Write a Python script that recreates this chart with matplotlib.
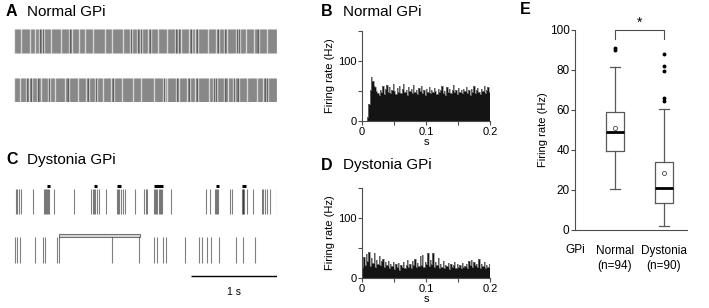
import numpy as np
import matplotlib.pyplot as plt

plt.rcParams['font.family'] = ['Liberation Sans', 'DejaVu Sans']

W, H = 709, 308

# --- data ---
# A: normal GPi, interspike intervals (ms) of two 3 s sweeps
normal_isi1 = [7, 15, 11, 19, 9, 13, 22, 8, 14, 10, 17, 12, 6, 16, 20, 11, 9, 14, 18, 13, 10, 24, 8, 12,
               15, 9, 19, 11, 13, 7, 16, 10, 21, 12, 14, 9, 17, 11, 8, 15, 13, 20, 10, 12, 18, 9, 14, 11,
               16, 7, 13, 19, 10, 15, 12, 8, 17, 22, 11, 14, 9, 13, 16, 10, 12, 18, 8, 15, 11, 20, 13, 9,
               14, 12, 17, 10, 7, 16, 13, 11, 19, 9, 15, 12, 14, 10, 21, 8, 13, 17, 11, 12, 9, 16, 14, 10,
               18, 12, 8, 15, 13, 11, 20, 9, 14, 16, 10, 12, 19, 7, 13, 15, 11, 17, 9, 14, 12, 10, 22, 13,
               8, 16, 11, 15, 9, 18, 12, 14, 10, 13, 17, 8, 11, 16, 12, 20, 9, 15, 13, 10, 14, 11, 18, 7,
               12, 16, 9, 13, 15, 11, 19, 10, 14, 12, 8, 17, 13, 9, 16, 11, 21, 12, 10, 15, 14, 8, 13, 18,
               11, 9, 16, 12, 14, 10, 17, 13, 7, 15, 11, 20, 12, 9, 14, 16, 10, 13, 18, 8, 12, 15, 11, 14,
               9, 19, 13, 10, 16, 12, 11, 15, 8, 17, 14, 9, 13, 12, 20, 10, 16, 11, 14, 13, 9, 18, 12, 15,
               10, 7, 17, 13, 11, 14, 16, 9, 12, 19, 10, 15, 13, 8, 14, 11, 17, 12, 10, 16, 13, 9, 21, 11]
normal_isi2 = [12, 9, 16, 10, 14, 21, 8, 13, 11, 18, 15, 9, 12, 17, 10, 7, 14, 19, 11, 13, 16, 9, 12, 8,
               20, 14, 10, 15, 11, 13, 17, 9, 12, 16, 10, 14, 23, 11, 8, 15, 12, 18, 9, 13, 10, 16, 14, 11,
               7, 19, 12, 15, 10, 13, 9, 17, 11, 14, 12, 20, 8, 16, 10, 13, 15, 11, 9, 18, 12, 14, 10, 16,
               13, 8, 17, 11, 15, 9, 12, 25, 10, 14, 13, 11, 16, 9, 18, 12, 7, 15, 14, 10, 13, 19, 11, 12,
               16, 9, 14, 10, 17, 13, 8, 15, 12, 11, 20, 9, 14, 16, 10, 13, 12, 18, 11, 9, 15, 14, 7, 17,
               12, 10, 16, 13, 11, 19, 9, 14, 12, 15, 10, 8, 18, 13, 11, 16, 24, 12, 9, 14, 10, 17, 13, 11,
               15, 8, 12, 19, 10, 14, 16, 9, 13, 11, 18, 12, 7, 15, 10, 14, 13, 20, 11, 9, 16, 12, 14, 10,
               17, 8, 13, 15, 11, 12, 22, 9, 14, 16, 10, 13, 11, 18, 12, 15, 9, 14, 10, 17, 8, 13, 12, 16,
               11, 19, 10, 14, 9, 15, 13, 12, 7, 18, 11, 16, 10, 14, 13, 9, 20, 12, 15, 11, 8, 17, 13, 10,
               14, 16, 12, 9, 19, 11, 15, 13, 10, 14, 8, 17, 12, 11, 16, 9, 13, 15, 10, 18, 12, 14, 11, 9]

# C: dystonia GPi spike times (s)
dyst_row1 = [0.020, 0.038, 0.062, 0.081, 0.217, 0.352, 0.360, 0.369, 0.387, 0.398, 0.407, 0.469, 0.701,
             0.895, 0.922, 0.930, 0.942, 0.969, 0.992, 1.066, 1.201, 1.212, 1.224, 1.244, 1.264, 1.291,
             1.407, 1.515, 1.535, 1.550, 1.628, 1.640, 1.648, 1.666, 1.686, 1.700, 1.706, 1.724, 1.822,
             2.229, 2.279, 2.337, 2.350, 2.357, 2.372, 2.512, 2.538, 2.648, 2.663, 2.670, 2.678, 2.713,
             2.783, 2.880, 2.899, 2.919, 2.938, 2.977, 3.055]
dyst_row2 = [0.012, 0.035, 0.070, 0.244, 0.337, 0.360, 0.500, 0.523, 1.140, 1.453, 1.628, 1.663, 1.733,
             1.767, 1.988, 2.151, 2.186, 2.244, 2.291, 2.384, 2.581, 2.663, 2.802]
burst_start = [0.384, 0.930, 1.198, 1.628, 2.349, 2.651]
burst_end = [0.419, 0.965, 1.244, 1.733, 2.384, 2.698]
pause_start, pause_end = 0.523, 1.465

# B, D: firing-rate histograms, 2 ms bins from 0 to 0.2 s
hist_normal = [0, 0, 0, 0, 6, 28, 52, 74, 66, 58, 56, 50, 47, 44, 52, 48, 58, 45, 54, 60,
               49, 56, 46, 52, 61, 50, 45, 55, 49, 58, 47, 53, 62, 48, 51, 44, 57, 50, 54, 46,
               60, 49, 52, 45, 55, 50, 58, 47, 51, 44, 53, 49, 57, 46, 52, 48, 55, 50, 45, 54,
               48, 52, 58, 47, 50, 44, 56, 49, 53, 46, 51, 60, 48, 52, 45, 55, 49, 51, 46, 54,
               50, 57, 47, 52, 44, 53, 48, 59, 46, 51, 55, 49, 45, 53, 50, 58, 47, 52, 56, 48]
hist_dyst = [18, 35, 22, 40, 28, 44, 20, 33, 25, 42, 19, 30, 24, 36, 21, 28, 32, 18, 26, 22,
             29, 17, 24, 20, 27, 15, 23, 19, 25, 14, 21, 18, 26, 16, 22, 30, 19, 24, 17, 28,
             21, 32, 18, 25, 20, 36, 22, 38, 19, 27, 23, 41, 20, 30, 24, 42, 18, 26, 21, 33,
             17, 24, 19, 28, 16, 22, 20, 25, 15, 23, 18, 21, 26, 17, 24, 19, 22, 16, 25, 18,
             20, 23, 17, 28, 21, 30, 18, 26, 22, 24, 19, 31, 17, 23, 20, 27, 16, 22, 19, 24]
bin_ms = 2

# E: firing rate box plot
groups = ['Normal\n(n=94)', 'Dystonia\n(n=90)']
whislo = [20.5, 2.0]
q1 = [39.5, 13.5]
med = [49.0, 21.0]
q3 = [59.0, 34.0]
whishi = [81.5, 60.5]
means = [51.0, 28.5]
outliers = [[90.0, 91.0], [64.5, 66.0, 79.5, 82.0, 88.0]]


def px_axes(fig, x0, y0, x1, y1):
    return fig.add_axes([x0 / W, 1 - y1 / H, (x1 - x0) / W, (y1 - y0) / H])


fig = plt.figure(figsize=(W / 100, H / 100), dpi=100)
fig.patch.set_facecolor('white')

lab = dict(fontsize=11.5, fontweight='bold', va='center')
ttl = dict(fontsize=11, va='center')
fig.text(6 / W, 1 - 12 / H, 'A', **lab)
fig.text(27 / W, 1 - 12 / H, 'Normal GPi', **ttl)
fig.text(6 / W, 1 - 160 / H, 'C', **lab)
fig.text(27 / W, 1 - 160 / H, 'Dystonia GPi', **ttl)
fig.text(321 / W, 1 - 12 / H, 'B', **lab)
fig.text(343 / W, 1 - 12 / H, 'Normal GPi', **ttl)
fig.text(321 / W, 1 - 165 / H, 'D', **lab)
fig.text(343 / W, 1 - 165 / H, 'Dystonia GPi', **ttl)
fig.text(520 / W, 1 - 10 / H, 'E', **lab)

sweep = 3.06

# panel A rasters
t1 = np.cumsum(normal_isi1) / 1000
t2 = np.cumsum(normal_isi2) / 1000
axA = px_axes(fig, 14, 29, 277, 102)
axA.set_xlim(0, sweep)
axA.set_ylim(73, 0)
axA.vlines(t1[t1 < sweep], 0, 24, color='k', alpha=0.36, lw=1.05)
axA.vlines(t2[t2 < sweep], 49, 73, color='k', alpha=0.36, lw=1.05)
axA.set_axis_off()

# panel C rasters
axC = px_axes(fig, 14, 180, 277, 300)
axC.set_xlim(0, sweep)
axC.set_ylim(120, 0)
axC.vlines(dyst_row1, 9, 34, color='k', alpha=0.5, lw=0.8)
axC.vlines(dyst_row2, 57, 83, color='k', alpha=0.5, lw=0.8)
axC.hlines([5.5] * len(burst_start), burst_start, burst_end, color='k', lw=2.2)
axC.add_patch(plt.Rectangle((pause_start, 53.5), pause_end - pause_start, 3,
                            facecolor='0.85', edgecolor='0.45', lw=0.8))
axC.hlines(96, sweep - 1.0, sweep, color='k', lw=1.0)
axC.text(sweep - 0.5, 112, '1 s', ha='center', va='center', fontsize=7.5)
axC.set_axis_off()


def psth(ax, vals):
    edges = np.arange(len(vals) + 1) * bin_ms / 1000
    v = np.append(vals, vals[-1])
    ax.fill_between(edges, 0, v, step='post', color='0.08', lw=0)
    ax.step(edges, v, where='post', color='0.5', lw=0.5)
    ax.set_xlim(0, 0.2)
    ax.set_ylim(0, 150)
    for s in ['top', 'right']:
        ax.spines[s].set_visible(False)
    for s in ['left', 'bottom']:
        ax.spines[s].set_color('0.3')
        ax.spines[s].set_linewidth(0.8)
    ax.set_xticks([0, 0.05, 0.1, 0.15, 0.2])
    ax.set_xticklabels(['0', '', '0.1', '', '0.2'])
    ax.set_yticks([0, 50, 100, 150])
    ax.set_yticklabels(['0', '', '100', ''])
    ax.tick_params(length=3, width=0.8, color='0.3', labelsize=8, pad=1)
    ax.set_xlabel('s', fontsize=8, labelpad=0)
    ax.set_ylabel('Firing rate (Hz)', fontsize=8, labelpad=2)


axB = px_axes(fig, 362, 31, 490, 121)
psth(axB, hist_normal)
axD = px_axes(fig, 362, 188, 490, 278)
psth(axD, hist_dyst)

# panel E box plot
axE = px_axes(fig, 575, 30, 687, 230)
stats = [dict(med=med[i], q1=q1[i], q3=q3[i], whislo=whislo[i], whishi=whishi[i],
              fliers=outliers[i], mean=means[i]) for i in range(2)]
pos = [1, 2]
axE.bxp(stats, positions=pos, widths=0.38, showmeans=True, meanline=False,
        boxprops=dict(color='0.35', lw=0.9),
        whiskerprops=dict(color='0.35', lw=0.9),
        capprops=dict(color='0.35', lw=0.9),
        medianprops=dict(color='k', lw=2.0),
        meanprops=dict(marker='o', markersize=3, markerfacecolor='white',
                       markeredgecolor='0.3', markeredgewidth=0.6),
        flierprops=dict(marker='o', markersize=1.8, markerfacecolor='k', markeredgecolor='k'))
axE.set_xlim(0.186, 2.47)
axE.set_ylim(0, 100)
for s in ['top', 'right']:
    axE.spines[s].set_visible(False)
for s in ['left', 'bottom']:
    axE.spines[s].set_color('0.3')
    axE.spines[s].set_linewidth(0.8)
axE.set_yticks([0, 20, 40, 60, 80, 100])
axE.tick_params(axis='y', length=3, width=0.8, color='0.3', labelsize=8.5, pad=1)
axE.set_xticks([])
axE.set_ylabel('Firing rate (Hz)', fontsize=8, labelpad=1)
axE.text(0.186, -0.1, 'GPi', transform=axE.get_xaxis_transform(), ha='center', va='center', fontsize=8.5)
for p, g in zip(pos, groups):
    axE.text(p, -0.075, g, transform=axE.get_xaxis_transform(), ha='center', va='top',
             fontsize=8.5, linespacing=1.3)
axE.plot([1, 1, 2, 2], [95.5, 100, 100, 95.5], color='0.3', lw=0.8, clip_on=False)
axE.text(1.5, 103.5, '*', ha='center', va='center', fontsize=10, clip_on=False)

fig.savefig('out.png', dpi=100)
